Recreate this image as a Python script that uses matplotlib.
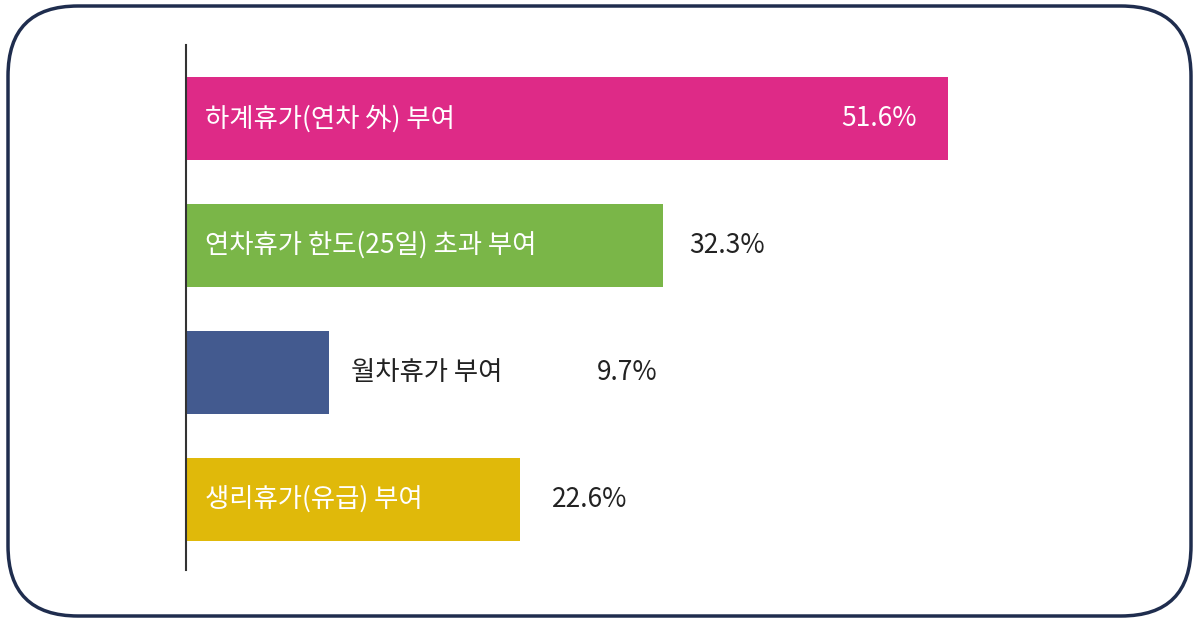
import matplotlib
matplotlib.use("Agg")
import matplotlib.pyplot as plt
from matplotlib.patches import FancyBboxPatch

plt.rcParams['font.family'] = ['Noto Sans CJK KR', 'DejaVu Sans']

categories = ["하계휴가(연차 外) 부여", "연차휴가 한도(25일) 초과 부여", "월차휴가 부여", "생리휴가(유급) 부여"]
values = [51.6, 32.3, 9.7, 22.6]
value_labels = ["51.6%", "32.3%", "9.7%", "22.6%"]
colors = ["#DE2A87", "#7AB648", "#435A8F", "#E0B90A"]

W, H = 1199, 622
fig = plt.figure(figsize=(W/100, H/100), dpi=100)

bg = fig.add_axes([0, 0, 1, 1])
bg.set_xlim(0, W); bg.set_ylim(H, 0); bg.axis('off')
bg.add_patch(FancyBboxPatch((8, 6), W-16, H-12, boxstyle="round,pad=0,rounding_size=70",
                            fc='white', ec='#1F2D4E', lw=2.5))

ax = fig.add_axes([186/W, 1-570/H, 886/W, 525/H])
ax.patch.set_alpha(0)
ax.set_xlim(0, 60)
ax.set_ylim(3.555, -0.579)
y = list(range(len(values)))
ax.barh(y, values, height=0.654, color=colors)
for s in ['top', 'right', 'bottom']:
    ax.spines[s].set_visible(False)
ax.spines['left'].set_linewidth(1.5)
ax.spines['left'].set_color('#333333')
ax.set_xticks([]); ax.set_yticks([])

fs = 19
# category labels
ax.text(1.3, 0, categories[0], color='white', fontsize=fs, va='center', ha='left')
ax.text(1.3, 1, categories[1], color='white', fontsize=fs, va='center', ha='left')
ax.text(values[2] + 1.5, 2, categories[2], color='#222222', fontsize=fs, va='center', ha='left')
ax.text(1.3, 3, categories[3], color='white', fontsize=fs, va='center', ha='left')
# values
ax.text(values[0] - 2.1, 0, value_labels[0], color='white', fontsize=fs, va='center', ha='right')
ax.text(values[1] + 1.8, 1, value_labels[1], color='#222222', fontsize=fs, va='center', ha='left')
ax.text(27.8, 2, value_labels[2], color='#222222', fontsize=fs, va='center', ha='left')
ax.text(values[3] + 2.2, 3, value_labels[3], color='#222222', fontsize=fs, va='center', ha='left')

fig.savefig("out.png", dpi=100)
